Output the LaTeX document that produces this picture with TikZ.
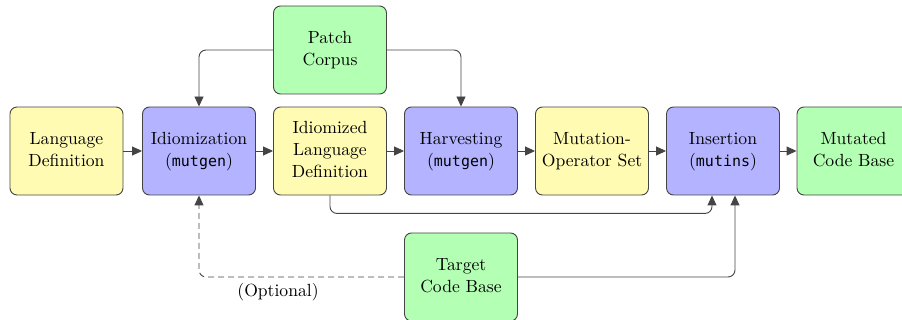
\documentclass[tikz,border=0pt]{standalone}
\usepackage{fontspec}
\usepackage{graphicx}
\newfontfamily\codefont{DejaVu Sans Mono}[Scale=0.85]
\usetikzlibrary{arrows.meta}
\definecolor{stageyellow}{HTML}{FFFBB3}
\definecolor{stagepurple}{HTML}{B3B3FF}
\definecolor{stagegreen}{HTML}{B3FFB3}
\definecolor{edgegray}{HTML}{444444}
% box labels: 10pt design size, enlarged as a whole
\newcommand{\lbl}[1]{\scalebox{1.76}{\renewcommand{\arraystretch}{1.04}\begin{tabular}{@{}c@{}}#1\end{tabular}}}
\tikzset{
  stagebox/.style={draw=edgegray, line width=0.9pt, rounded corners=7pt,
    minimum width=113pt, minimum height=88pt, align=center, inner sep=0pt},
  datanode/.style={stagebox, fill=stageyellow},
  toolnode/.style={stagebox, fill=stagepurple},
  extnode/.style={stagebox, fill=stagegreen},
  flow/.style={draw=edgegray, line width=0.9pt, rounded corners=7pt,
    -{Triangle[length=10pt,width=9pt]}},
}
\begin{document}
\begin{tikzpicture}[x=1pt,y=-1pt]
\useasboundingbox (0,0) rectangle (902,320);
% main pipeline
\node[datanode] (lang) at (66.5,151) {\lbl{Language\\Definition}};
\node[toolnode] (idi)  at (199,151) {\lbl{Idiomization\\({\codefont mutgen})}};
\node[datanode] (ild)  at (330,151) {\lbl{Idiomized\\Language\\Definition}};
\node[toolnode] (harv) at (461,151) {\lbl{Harvesting\\({\codefont mutgen})}};
\node[datanode] (mos)  at (592,151) {\lbl{Mutation-\\Operator Set}};
\node[toolnode] (ins)  at (723,151) {\lbl{Insertion\\({\codefont mutins})}};
\node[extnode]  (mcb)  at (853.5,151) {\lbl{Mutated\\Code Base}};
% external inputs
\node[extnode] (pc)  at (330,50) {\lbl{Patch\\Corpus}};
\node[extnode] (tcb) at (461,277) {\lbl{Target\\Code Base}};
% arrow end points on the insertion box
\coordinate (insL) at ([xshift=-11pt]ins.south);
\coordinate (insR) at ([xshift=12pt]ins.south);
% pipeline arrows
\draw[flow] (lang) -- (idi);
\draw[flow] (idi) -- (ild);
\draw[flow] (ild) -- (harv);
\draw[flow] (harv) -- (mos);
\draw[flow] (mos) -- (ins);
\draw[flow] (ins) -- (mcb);
% patch corpus feeds both mutgen stages
\draw[flow] (pc.west) -| (idi.north);
\draw[flow] (pc.east) -| (harv.north);
% idiomized definition and target code base feed insertion
\draw[flow] (ild.south) -- ++(0,18) -| (insL);
\draw[flow] (tcb.east) -| (insR);
\draw[flow, dashed, dash pattern=on 6pt off 4pt] (tcb.west) -| (idi.south);
\node[inner sep=0pt] (opt) at (278,292) {\lbl{(Optional)}};
\end{tikzpicture}
\end{document}
